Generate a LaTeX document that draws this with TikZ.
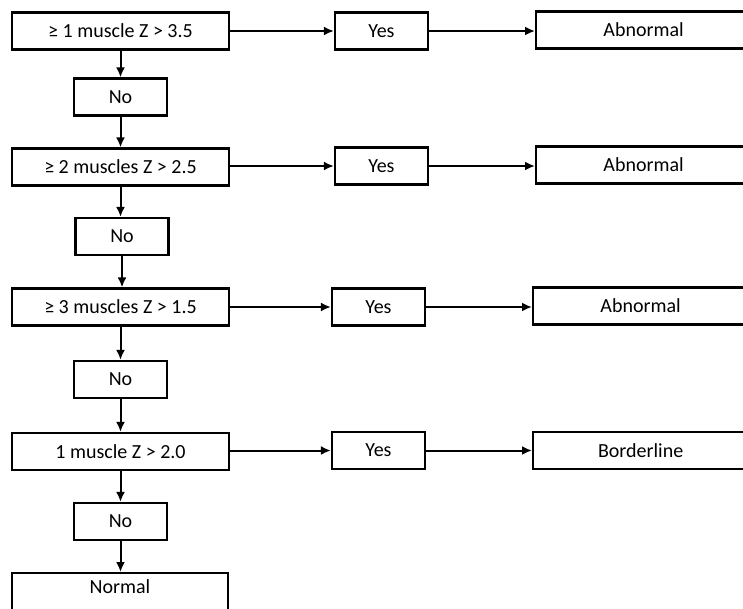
\documentclass[tikz,border=0pt]{standalone}
\usepackage{fontspec}
\setmainfont{Carlito}
\usetikzlibrary{arrows.meta}
\begin{document}
\begin{tikzpicture}[x=1pt,y=-1pt,
  box/.style={draw, line width=2.2pt, inner sep=0pt, font=\fontsize{20}{24}\selectfont, minimum height=37pt},
  cond/.style={box, minimum width=217pt},
  nobox/.style={box, minimum width=93pt},
  yesbox/.style={box, minimum width=93pt},
  resbox/.style={box, minimum width=215pt, anchor=west},
  arr/.style={line width=2pt, -{Latex[length=10pt,width=9pt]}}]
\clip (0,0) rectangle (743,608);
\useasboundingbox (0,0) rectangle (743,608);
% conditions
\node[cond] (C1) at (120.5,31) {≥ 1 muscle Z > 3.5};
\node[cond] (C2) at (120.5,167) {≥ 2 muscles Z > 2.5};
\node[cond] (C3) at (120.5,307) {≥ 3 muscles Z > 1.5};
\node[cond] (C4) at (120.5,451.5) {1 muscle Z > 2.0};
% no boxes
\node[nobox] (N1) at (120.5,97) {No};
\node[nobox] (N2) at (122,236.5) {No};
\node[nobox] (N3) at (120.5,379.5) {No};
\node[nobox] (N4) at (120.5,521.5) {No};
% yes boxes
\node[yesbox] (Y1) at (381.5,31) {Yes};
\node[yesbox] (Y2) at (381.5,166) {Yes};
\node[yesbox] (Y3) at (378.5,307) {Yes};
\node[yesbox] (Y4) at (378.5,450.5) {Yes};
% results
\node[resbox] (R1) at (535,30) {Abnormal};
\node[resbox] (R2) at (535,165) {Abnormal};
\node[resbox] (R3) at (532,306) {Abnormal};
\node[resbox] (R4) at (532,450.5) {Borderline};
\node[box, minimum width=216pt, minimum height=0pt, text height=20pt, text depth=20pt, anchor=north] (Nm) at (120,572) {Normal};
% arrows
\foreach \i in {1,2,3,4}{
  \draw[arr] (C\i.east |- Y\i.west) -- (Y\i.west);
  \draw[arr] (Y\i.east) -- (Y\i.east -| R\i.west);
  \draw[arr] (C\i.south) -- (N\i.north -| C\i.south);
}
\draw[arr] (N1.south) -- (C2.north -| N1.south);
\draw[arr] (N2.south) -- (C3.north -| N2.south);
\draw[arr] (N3.south) -- (C4.north -| N3.south);
\draw[arr] (N4.south) -- (Nm.north -| N4.south);
\end{tikzpicture}
\end{document}
